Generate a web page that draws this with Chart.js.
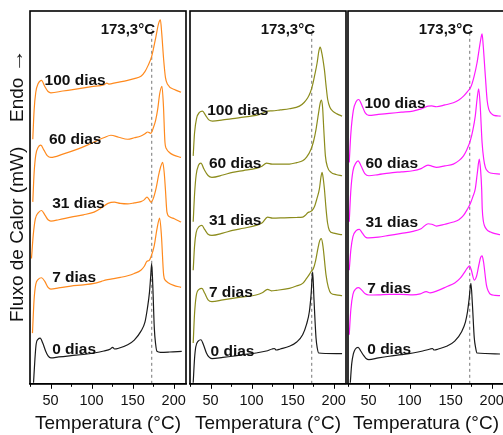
<!DOCTYPE html>
<html>
<head>
<meta charset="utf-8">
<script src="https://cdn.jsdelivr.net/npm/chart.js@4/dist/chart.umd.min.js"></script>
<style>
  html, body { margin: 0; padding: 0; background: #fff; overflow: hidden; width: 503px; height: 435px; }
  .panel { position: absolute; top: 0; }
</style>
</head>
<body>
<div class="panel" style="left:0px"><canvas id="c1" width="190" height="435"></canvas></div>
<div class="panel" style="left:186px"><canvas id="c2" width="164" height="435"></canvas></div>
<div class="panel" style="left:344px"><canvas id="c3" width="164" height="435"></canvas></div>
<script>
// DSC heating curves, stacked per storage time: [temperature °C, heat flow (offset, arb. units)]
const dayLabels = ['0 dias', '7 dias', '31 dias', '60 dias', '100 dias'];
const meltTemp = 173.3;
const meltLabel = '173,3°C';
const xTickValues = [50, 100, 150, 200];

// Panel 1
const p1_d0 = [[29.3,1],[31,25],[32.5,40],[35,45],[37.4,46],[40.5,41],[44,33],[47,28],[50.4,26],[60,27],[75,28.3],[90,29.5],[103,31],[115,33],[123,35],[125.6,36.7],[128,35],[132,35.5],[144,39.3],[152,44],[160,52.7],[165,62],[168,76],[170.5,92],[172,108],[173.2,121],[174.5,100],[176.4,56],[178,40],[179.6,32.7],[184,31.7],[195,32],[209.8,32.7]];
const p1_d7 = [[28,51],[30,85],[32,100],[35,105],[39,106.7],[43,103],[47,97],[50.4,95.3],[60,96.5],[74.8,98.3],[90,99.5],[103,101],[112,103],[118,104.5],[123.5,105.3],[135,107],[144,108.7],[152,111],[160,114.3],[164,118],[167.5,123.3],[170,124],[172.5,128],[176.4,139.3],[179.5,155],[182.9,166.7],[185,150],[187.8,109.3],[190,104],[192.7,102],[200,99],[209,97]];
const p1_d31 = [[26.8,126],[29,150],[31.5,166],[35,172],[39,174.3],[43,170],[47,165],[50.4,163.7],[60,165],[74.8,167.7],[90,170],[103,172.7],[112,177],[120,181.5],[127.7,182.7],[135,181.5],[144,181],[152,182],[160,183.3],[164,185],[167.5,187.7],[170,185.5],[172.4,182.7],[175,186],[178.4,196],[182.4,212.7],[186.6,222.7],[188.5,212],[189.9,196],[191.8,172.7],[195,168],[200.8,166],[209,162.7]];
const p1_d60 = [[28.4,183],[30,212],[32,230],[35,238],[38.2,240],[42,235],[46,229.5],[50.4,227.7],[65,231],[82.9,236],[100,242],[115.5,247.7],[123.5,250],[133,248],[143.9,246],[152,247.5],[160.1,249.3],[165,251.5],[168.3,253.3],[172.3,252],[175,257],[178,265],[180.5,276],[183,292],[185.7,299.3],[187.5,280],[189.4,242.7],[191.5,236],[194.8,232.7],[200,230],[208.9,227.7]];
const p1_d100 = [[28.4,246],[30,275],[32,293],[35,302],[39,305.3],[43,299],[47,294],[50.4,292.7],[65,294.5],[82.9,296.7],[100,299],[115.5,301],[118.5,302.5],[121,301.5],[130,303],[143.9,305.3],[152,307],[160.1,309.3],[165,314],[168.3,319.3],[173.2,329.3],[178.4,349.3],[181.5,362],[183.8,366],[185.5,352],[187.8,326],[190,308],[192.7,301],[200.9,296],[208.9,293.3]];

// Panel 2
const p2_d0 = [[28.9,1],[30.5,25],[32,37],[35,43],[38.3,44.3],[41.5,39],[45,31],[48,27],[51.7,25.3],[65,26.5],[76.8,27.7],[90,29.3],[105.4,31],[118,33],[125,35],[127.7,35.5],[130,34],[135,35],[146,37.7],[155,42],[162.2,49.3],[167,60],[170.4,72.7],[172.5,90],[174.4,112.7],[176,85],[178.5,46],[180,36],[181.7,31],[190,30.5],[210.2,30.3]];
const p2_d7 = [[28.9,41],[30.5,70],[32.5,88],[36,95],[39.5,96],[43,91],[47,84.5],[51.7,82.7],[65,84.5],[76.8,86],[90,87.5],[105.4,89.3],[113,91.5],[119.5,95],[124,93.5],[130,94],[146,96],[155,98.5],[162.2,101],[167,106],[170.4,110],[172.5,113],[175.3,116],[178,124],[181,137],[183,144],[185,146],[187,138],[190.7,109.3],[193.5,97],[196.8,91],[203,89.5],[210.2,88.7]];
const p2_d31 = [[28.9,114.3],[30.5,138],[32.5,152],[36,158],[39.5,159.3],[43,155],[47,150.5],[51.7,149.3],[65,151.5],[76.8,154.3],[90,156.5],[105.4,159.3],[113,162],[119.5,167.7],[125.6,166.7],[140,167],[155,167.3],[162.2,167.7],[165.5,169.5],[168.4,172],[171,173],[173.7,174.3],[176.5,178],[179.5,186],[182.6,196],[184.5,208],[185.9,212.7],[187.5,205],[188.7,196],[190.7,176],[192.5,162],[194.8,154.3],[200,151.5],[210.2,150]];
const p2_d60 = [[28.9,163],[30.5,190],[32.5,210],[35.5,220],[38.3,222],[42,216],[47,209.5],[51.7,207.7],[65,210],[76.8,212.7],[90,214.5],[105.4,216.7],[112,218.5],[118.3,222],[125,221],[146,221],[155,222.5],[162.2,224.3],[167,228],[172.4,236],[175.5,244],[178.5,256],[181.5,272],[183.5,282],[185,285.3],[186.5,278],[188,255],[189.9,229.3],[192.5,218],[196.8,212.7],[203,210.5],[210.2,209.3]];
const p2_d100 = [[28.9,229.3],[30.5,252],[33,267],[36.5,273],[40.2,274.3],[44,270],[48,265.5],[52.4,264.3],[65,265.5],[76.8,266.7],[90,268.3],[105.4,270],[113,272],[119.5,274.3],[125,274.5],[135,275.5],[146,276.7],[158.3,279.3],[164,283],[168.4,287.7],[171.5,293],[174.4,301],[177,311],[179.8,322.7],[181.8,334],[183.4,338.7],[185,335],[188.7,316],[190.7,300],[192.7,286],[195.5,278],[198.8,274.3],[204,271.5],[210.2,269.3]];

// Panel 3
const p3_d0 = [[27.8,1],[29.5,20],[31.5,30],[34,35],[37.3,36.7],[40.5,33],[44,28.5],[47,25.5],[50.4,24.3],[62,26],[75.1,27.7],[90,29.3],[104,31],[116,33],[125,35],[127.8,35.5],[130,34],[135,35],[145,37.7],[155,43],[163.6,52.7],[168,62],[170.6,72.7],[172.5,85],[174.7,101],[176.5,80],[178.8,46],[180.5,36],[182.1,31],[192,30.5],[210.1,30]];
const p3_d7 = [[26.5,49.3],[28.5,75],[31,90],[34.5,95.5],[38,96.7],[42,94],[46,90.5],[50.4,89.3],[62,89.5],[75.1,90],[90,90],[104,89.5],[113,90.5],[120.4,92.7],[125,91.5],[135,94],[145,97.7],[155,101.5],[161.5,106],[166,111],[170,116],[173.1,118.7],[175,115],[178.8,104.3],[181.5,108],[184.5,120],[186.5,127],[188.3,128.7],[190,123],[193.6,99.3],[196,93],[198.5,90],[204,89],[210.1,88.7]];
const p3_d31 = [[26.5,114.3],[28.5,135],[31,148],[35,154],[38.9,155.3],[42.5,151.5],[46.5,147.5],[50.4,146.7],[62,147.5],[75.1,149.3],[90,151.3],[104,153.3],[114,156],[122.5,161],[127,160.5],[132.7,158.7],[143,160.5],[153.3,162.7],[160,165],[165.7,169.3],[170,175],[173.9,181],[177,188],[180,196],[182.5,212],[184.9,226],[186.5,215],[187.8,196],[188.5,176],[190,163],[191.1,159.3],[194,155],[198.5,152.7],[204,151],[210.1,150]];
const p3_d60 = [[26.5,163],[28.5,195],[31,214],[34.5,222],[37.3,224.3],[41,219],[45.5,211.5],[50.4,209.3],[62,210.5],[75.1,212],[90,213.2],[104,214.3],[114,216.5],[122.5,220],[127,219],[132.7,217.7],[143,219.2],[153.3,221],[160,224.5],[165.7,229.3],[170,236],[173.9,244.3],[177,255],[180,269.3],[182.3,287],[184.2,296.7],[186,280],[188.3,242.7],[190.3,226],[192.3,217.7],[195,214],[198.5,212],[210.1,211]];
const p3_d100 = [[26.5,222.7],[28.5,252],[31.5,275],[35,284],[38,286],[42,280],[46,272.5],[50.4,270],[62,271],[75.1,272],[90,273.2],[104,274.3],[114,276.5],[122.5,279.3],[127,279.5],[132.7,278.7],[143,280.5],[153.3,282.7],[160,285.5],[165.7,289.3],[170.5,294],[174.7,298.7],[178.5,309],[182.1,322.7],[185,338],[187,348],[188.3,352],[189.7,340],[192.3,309.3],[194.5,285],[196.5,276],[200,271.5],[202.7,270],[210.9,269.3]];

// Where each curve's name is written, in data coordinates [T, heat flow]
const labelAnchors1 = [[52,34.5],[52,106.5],[52,181.5],[48,245.5],[42.7,304.5]];
const labelAnchors2 = [[50,32.5],[48,91.5],[48,164.5],[48,221.5],[46,274.5]];
const labelAnchors3 = [[48.4,34.5],[48.4,95.5],[46.3,162.5],[46.3,221.5],[45,281.5]];

const FONT = "'Liberation Sans', Arial, sans-serif";

const framePlugin = {
  id: 'frameAndLabels',
  afterDatasetsDraw(chart, args, opts) {
    const { ctx, chartArea: a, scales } = chart;
    const xs = scales.x, ys = scales.y;
    ctx.save();
    // curve names
    ctx.fillStyle = '#111';
    ctx.font = 'bold 15.5px ' + FONT;
    ctx.textAlign = 'left';
    ctx.textBaseline = 'middle';
    opts.anchors.forEach((p, i) => {
      ctx.fillText(dayLabels[i], xs.getPixelForValue(p[0]), ys.getPixelForValue(p[1]));
    });
    // melting temperature marker label
    ctx.font = 'bold 15px ' + FONT;
    ctx.textAlign = 'right';
    ctx.fillText(meltLabel, xs.getPixelForValue(meltTemp + 4), ys.getPixelForValue(356));
    // frame
    ctx.strokeStyle = '#000';
    ctx.lineWidth = 1.6;
    ctx.strokeRect(a.left, a.top, a.right - a.left, a.bottom - a.top);
    // outward tick marks: long on labelled values, short in between
    ctx.lineWidth = 1;
    ctx.beginPath();
    xs.ticks.forEach(t => {
      const px = Math.round(xs.getPixelForValue(t.value)) + 0.5;
      const len = xTickValues.includes(t.value) ? 5 : 3;
      ctx.moveTo(px, a.bottom);
      ctx.lineTo(px, a.bottom + len);
    });
    ctx.stroke();
    ctx.restore();
  }
};

const yTitlePlugin = {
  id: 'yTitle',
  afterDraw(chart) {
    const { ctx } = chart;
    ctx.save();
    ctx.translate(18, 322);
    ctx.rotate(-Math.PI / 2);
    ctx.fillStyle = '#111';
    ctx.font = '19px ' + FONT;
    ctx.textAlign = 'left';
    ctx.textBaseline = 'middle';
    ctx.fillText('Fluxo de Calor (mW)', 0, 0);
    ctx.fillText('Endo', 200, 0);
    const ew = ctx.measureText('Endo').width;
    const arrow = '→';
    const aw = ctx.measureText(arrow).width;
    ctx.translate(200 + ew + 5, 0);
    ctx.scale(24 / aw, 1);
    ctx.fillText(arrow, 0, 0);
    ctx.restore();
  }
};

function toPoints(arr) { return arr.map(p => ({ x: p[0], y: p[1] })); }

function buildChart(id, curves, color, anchors, padLeft, extraPlugins) {
  const datasets = curves.map((c, i) => ({
    data: toPoints(c),
    borderColor: i === 0 ? '#1a1a1a' : color,
    borderWidth: 1.2,
    pointRadius: 0,
    fill: false,
    cubicInterpolationMode: 'monotone'
  }));
  datasets.push({
    data: [{ x: meltTemp, y: 0 }, { x: meltTemp, y: 357 }],
    borderColor: '#666',
    borderWidth: 0.9,
    borderDash: [3, 3],
    pointRadius: 0,
    fill: false
  });
  return new Chart(document.getElementById(id), {
    type: 'line',
    data: { datasets },
    options: {
      responsive: false,
      devicePixelRatio: 1,
      animation: false,
      layout: { padding: { left: padLeft, right: 4, top: 11, bottom: 0 } },
      plugins: {
        legend: { display: false },
        tooltip: { enabled: false },
        frameAndLabels: { anchors }
      },
      scales: {
        x: {
          type: 'linear',
          min: 25, max: 215,
          grid: { display: true, drawOnChartArea: false, drawTicks: true, tickLength: 5, tickColor: 'rgba(0,0,0,0)', color: '#000', lineWidth: 1 },
          border: { display: true, color: '#000', width: 1.6 },
          ticks: {
            stepSize: 25,
            includeBounds: false,
            autoSkip: false,
            maxRotation: 0,
            padding: 3,
            color: '#111',
            font: { family: FONT, size: 14.5 },
            callback: v => xTickValues.includes(v) ? String(v) : ''
          },
          title: {
            display: true,
            text: 'Temperatura (°C)',
            color: '#111',
            font: { family: FONT, size: 19 },
            padding: { top: 0, bottom: 0 }
          }
        },
        y: { display: false, min: 0, max: 375 }
      }
    },
    plugins: [framePlugin].concat(extraPlugins || [])
  });
}

buildChart('c1', [p1_d0, p1_d7, p1_d31, p1_d60, p1_d100], '#FF8A1E', labelAnchors1, 30, [yTitlePlugin]);
buildChart('c2', [p2_d0, p2_d7, p2_d31, p2_d60, p2_d100], '#8C8C1C', labelAnchors2, 4);
buildChart('c3', [p3_d0, p3_d7, p3_d31, p3_d60, p3_d100], '#FF1AFF', labelAnchors3, 4);
</script>
</body>
</html>
